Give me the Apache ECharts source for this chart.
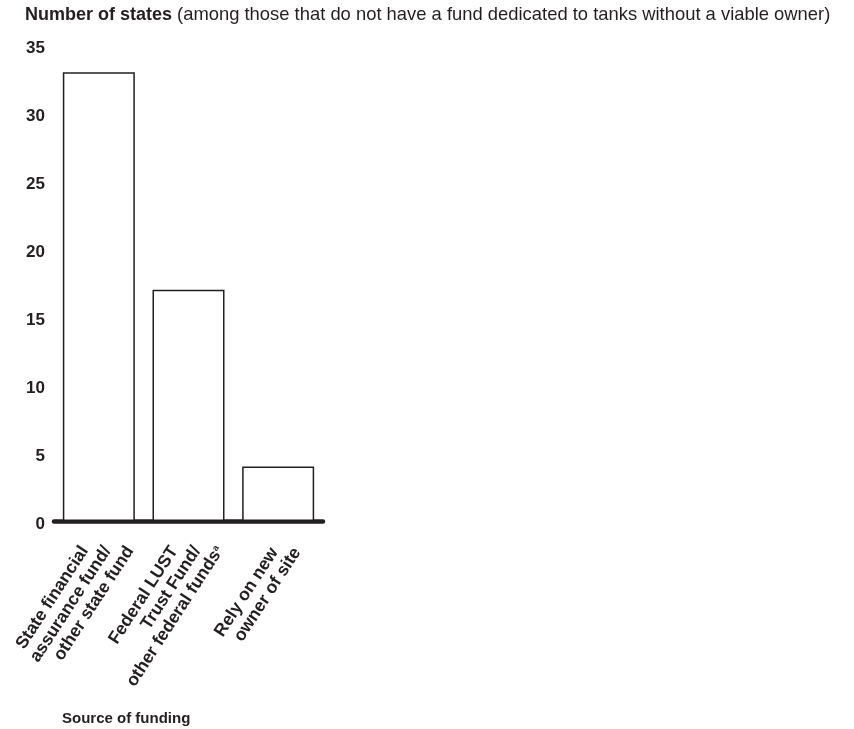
<!DOCTYPE html>
<html>
<head>
<meta charset="utf-8">
<script src="https://cdn.jsdelivr.net/npm/echarts@6/dist/echarts.min.js"></script>
<style>
html,body{margin:0;padding:0;background:#fff;}
#chart{width:854px;height:729px;}
</style>
</head>
<body>
<div id="chart"></div>
<script>
var categories = [
  "State financial\nassurance fund/\nother state fund",
  "Federal LUST\nTrust Fund/\nother federal funds^a",
  "Rely on new\nowner of site"
];
var values = [33, 17, 4];
var yTicks = { min: 0, max: 35, interval: 5 };

var FONT = '"Liberation Sans", Arial, Helvetica, sans-serif';
var INK = '#231f20';
var ROT = 57;
var LH = 19;
var FS = 17.5;
var STEP = LH / Math.tan(ROT * Math.PI / 180);  // shift per line so line ends sit on one horizontal
var SHIFT = { 2: -20, 3: -28 };

var rich = {};
[2, 3].forEach(function (n) {
  for (var k = 0; k < n; k++) {
    var pr = k * STEP + SHIFT[n];
    var key = n + '_' + k;
    rich['c' + key] = { fontFamily: FONT, fontWeight: 'bold', fontSize: FS, color: INK, lineHeight: LH, align: 'right', padding: [0, pr, 0, 0] };
    rich['t' + key] = { fontFamily: FONT, fontWeight: 'bold', fontSize: FS, color: INK, lineHeight: LH, align: 'right' };
    rich['s' + key] = { fontFamily: FONT, fontWeight: 'bold', fontSize: 9, color: INK, lineHeight: LH, verticalAlign: 'top', align: 'right', padding: [2, pr, 0, 0] };
  }
});

function fmtLabel(v) {
  var lines = v.split('\n');
  var n = lines.length;
  return lines.map(function (line, i) {
    var key = n + '_' + (n - 1 - i);
    var m = line.match(/^(.*)\^(\w+)$/);
    if (m) return '{t' + key + '|' + m[1] + '}{s' + key + '|' + m[2] + '}';
    return '{c' + key + '|' + line + '}';
  }).join('\n');
}

var chart = echarts.init(document.getElementById('chart'));
chart.setOption({
  animation: false,
  backgroundColor: '#fff',
  title: [{
    left: 20, top: 1,
    text: '{b|Number of states} {n|(among those that do not have a fund dedicated to tanks without a viable owner)}',
    textStyle: {
      rich: {
        b: { fontFamily: FONT, fontWeight: 'bold', fontSize: 18, color: INK },
        n: { fontFamily: FONT, fontWeight: 'normal', fontSize: 18.4, color: INK }
      }
    }
  }, {
    left: 57, top: 706,
    text: 'Source of funding',
    textStyle: { fontFamily: FONT, fontWeight: 'bold', fontSize: 15, color: INK }
  }],
  grid: { left: 54, right: 531, top: 45, bottom: 208, containLabel: false },
  xAxis: {
    type: 'category',
    data: categories,
    axisLine: { show: true, lineStyle: { color: INK, width: 4.5 } },
    axisTick: { show: false },
    axisLabel: {
      rotate: ROT,
      margin: 40,
      interval: 0,
      align: 'right',
      verticalAlign: 'middle',
      formatter: fmtLabel,
      rich: rich
    }
  },
  yAxis: {
    type: 'value',
    min: yTicks.min, max: yTicks.max, interval: yTicks.interval,
    axisLine: { show: false },
    axisTick: { show: false },
    splitLine: { show: false },
    axisLabel: { margin: 9, verticalAlign: 'top', lineHeight: 6, fontFamily: FONT, fontWeight: 'bold', fontSize: 17, color: INK }
  },
  series: [{
    type: 'bar',
    data: values,
    barWidth: 72,
    z: 1,
    itemStyle: { color: '#fff', borderColor: INK, borderWidth: 1.5 }
  }]
});
</script>
</body>
</html>
